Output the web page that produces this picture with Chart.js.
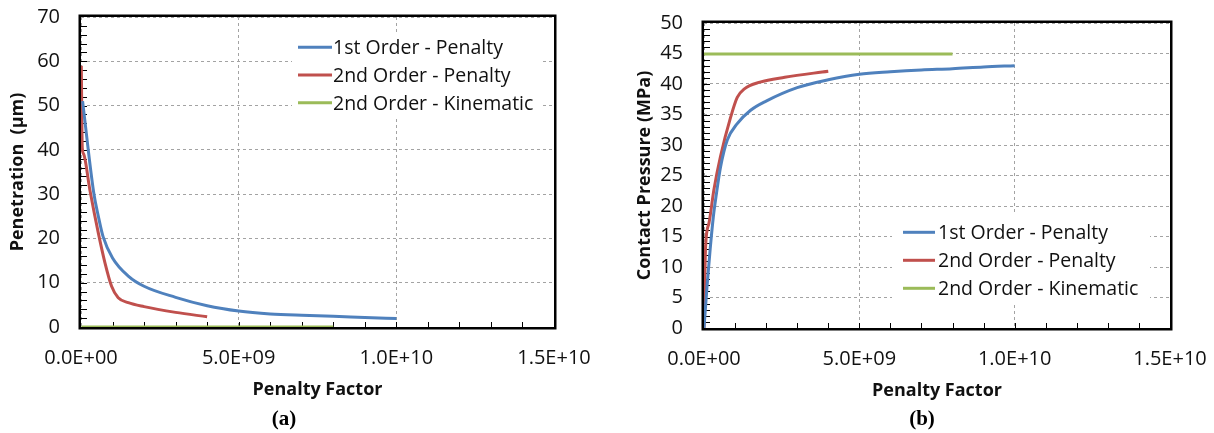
<!DOCTYPE html>
<html>
<head>
<meta charset="utf-8">
<script src="https://cdn.jsdelivr.net/npm/chart.js@4.4.1/dist/chart.umd.min.js"></script>
<style>
  html, body { margin: 0; padding: 0; background: #fff; }
  body { width: 1214px; height: 433px; position: relative; overflow: hidden; }
  canvas { position: absolute; top: 0; }
  #chartA { left: 0; }
  #chartB { left: 607px; }
  .tag {
    position: absolute;
    font-family: "Liberation Serif", "Times New Roman", serif;
    font-weight: bold;
    font-size: 21px;
    color: #000;
    transform: translate(-50%, -50%);
    white-space: nowrap;
  }
</style>
</head>
<body>
<canvas id="chartA" width="600" height="433"></canvas>
<canvas id="chartB" width="607" height="433"></canvas>
<div class="tag" style="left:284px; top:418px;">(a)</div>
<div class="tag" style="left:922px; top:418px;">(b)</div>

<script>
// ---- series names and shared tick labels ----
const seriesNames = ['1st Order - Penalty', '2nd Order - Penalty', '2nd Order - Kinematic'];
const seriesColors = ['#4F81BD', '#C0504D', '#9BBB59'];
const xTickLabels = ['0.0E+00', '5.0E+09', '1.0E+10', '1.5E+10'];
const xAxisTitle = 'Penalty Factor';

// ---- (a) penetration vs penalty factor ----
const penFirstX  = [0.05e9, 0.4e9, 0.55e9, 0.7e9, 1.0e9, 1.5e9, 2.0e9, 3.0e9, 4.0e9, 5.0e9, 6.0e9, 7.0e9, 8.0e9, 9.0e9, 1.0e10];
const penFirstY  = [51, 30.5, 25, 20.4, 15.6, 11.5, 9.2, 6.7, 4.8, 3.6, 2.95, 2.65, 2.45, 2.15, 1.9];
const penSecondX = [0.01e9, 0.04e9, 0.08e9, 0.28e9, 0.55e9, 0.76e9, 0.97e9, 1.18e9, 1.5e9, 2.0e9, 3.0e9, 4.0e9];
const penSecondY = [59, 40.5, 39.1, 31, 21.2, 14.5, 9.2, 6.6, 5.5, 4.6, 3.3, 2.3];
const penKinX    = [0.01e9, 1e9, 2e9, 4e9, 6e9, 8e9];
const penKinY    = [0, 0, 0, 0, 0, 0];
const penTitle   = 'Penetration  (\u00b5m)';

// ---- (b) contact pressure vs penalty factor ----
const presFirstX  = [0, 0.1e9, 0.2e9, 0.3e9, 0.4e9, 0.53e9, 0.75e9, 1.07e9, 1.5e9, 2.0e9, 3.0e9, 4.0e9, 5.0e9, 6.0e9, 7.0e9, 8.0e9, 9.0e9, 1.0e10];
const presFirstY  = [0, 7, 13, 18.2, 22, 26.3, 30.8, 33.5, 35.7, 37.2, 39.4, 40.7, 41.6, 42.0, 42.3, 42.5, 42.8, 43.0];
const presSecondX = [0, 0.05e9, 0.16e9, 0.32e9, 0.53e9, 0.86e9, 1.07e9, 1.3e9, 1.8e9, 2.6e9, 4.0e9];
const presSecondY = [0, 13.2, 17.2, 22.7, 28.1, 34.6, 37.8, 39.2, 40.3, 41.1, 42.1];
const presKinX    = [0, 1e9, 2e9, 4e9, 6e9, 8e9];
const presKinY    = [44.9, 44.9, 44.9, 44.9, 44.9, 44.9];
const presTitle   = 'Contact Pressure (MPa)';

const FONT = '"Open Sans", "Noto Sans", "DejaVu Sans", sans-serif';
const TEXT = '#111';

function points(xs, ys) {
  return xs.map((x, i) => ({ x: x, y: ys[i] }));
}

function buildDatasets(groups) {
  return groups.map((g, i) => ({
    label: seriesNames[i],
    data: points(g[0], g[1]),
    borderColor: seriesColors[i],
    backgroundColor: seriesColors[i],
    borderWidth: 3,
    pointRadius: 0,
    cubicInterpolationMode: 'monotone',
    fill: false
  }));
}

// frame around the plot area plus small inward minor ticks on the x and y axes
const frameAndTicks = {
  id: 'frameAndTicks',
  beforeDatasetsDraw(chart, args, opts) {
    const { ctx, chartArea: a, scales: { x, y } } = chart;
    ctx.save();
    ctx.strokeStyle = '#000';
    ctx.lineWidth = 1;
    ctx.beginPath();
    const ny = Math.round((y.max - y.min) / opts.yMinor);
    for (let i = 1; i < ny; i++) {
      const py = Math.round(y.getPixelForValue(y.min + i * opts.yMinor)) + 0.5;
      ctx.moveTo(a.left, py);
      ctx.lineTo(a.left + 6, py);
    }
    const nx = Math.round((x.max - x.min) / opts.xMinor);
    for (let i = 1; i < nx; i++) {
      const px = Math.round(x.getPixelForValue(x.min + i * opts.xMinor)) + 0.5;
      ctx.moveTo(px, a.bottom);
      ctx.lineTo(px, a.bottom - 5);
    }
    ctx.stroke();
    ctx.lineWidth = 2.5;
    ctx.strokeRect(a.left - 1.25, a.top - 1.25, a.right - a.left + 2.5, a.bottom - a.top + 2.5);
    ctx.restore();
  }
};

// legend drawn inside the plot area on a white panel
const insideLegend = {
  id: 'insideLegend',
  afterDatasetsDraw(chart, args, opts) {
    const ctx = chart.ctx;
    ctx.save();
    ctx.fillStyle = '#fff';
    ctx.fillRect(opts.box[0], opts.box[1], opts.box[2], opts.box[3]);
    ctx.font = opts.fontSize + 'px ' + FONT;
    ctx.textAlign = 'left';
    ctx.textBaseline = 'alphabetic';
    chart.data.datasets.forEach((ds, i) => {
      const ry = opts.rowY + i * opts.rowGap;
      ctx.strokeStyle = ds.borderColor;
      ctx.lineWidth = 3;
      ctx.beginPath();
      ctx.moveTo(opts.lineX0, ry);
      ctx.lineTo(opts.lineX1, ry);
      ctx.stroke();
      ctx.fillStyle = TEXT;
      ctx.fillText(ds.label, opts.textX, ry + opts.fontSize * 0.357);
    });
    ctx.restore();
  }
};

function makeChart(canvasId, cfg) {
  return new Chart(document.getElementById(canvasId), {
    type: 'line',
    data: { datasets: buildDatasets(cfg.groups) },
    plugins: [frameAndTicks, insideLegend],
    options: {
      responsive: false,
      animation: false,
      devicePixelRatio: 1,
      layout: { padding: { top: cfg.top, right: cfg.right, bottom: 0, left: 0 } },
      plugins: {
        legend: { display: false },
        tooltip: { enabled: false },
        frameAndTicks: { yMinor: cfg.yMinor, xMinor: 1e9 },
        insideLegend: cfg.legend
      },
      scales: {
        x: {
          type: 'linear',
          min: 0,
          max: 1.5e10,
          afterFit: (s) => { s.height = cfg.xHeight; },
          afterBuildTicks: (s) => { s.ticks = xTickLabels.map((_, i) => ({ value: i * 5e9 })); },
          ticks: {
            autoSkip: false,
            maxRotation: 0,
            padding: 0,
            color: TEXT,
            font: { family: FONT, size: 20 },
            callback: (v, i) => xTickLabels[i]
          },
          grid: { color: '#a3a3a3', lineWidth: 1, drawTicks: true, tickLength: 19, tickColor: 'rgba(0,0,0,0)' },
          border: { display: false, dash: [3, 3] },
          title: {
            display: true,
            text: xAxisTitle,
            color: TEXT,
            font: { family: FONT, size: 18, weight: 'bold' },
            padding: { top: 0, bottom: cfg.xTitlePad }
          }
        },
        y: {
          type: 'linear',
          min: 0,
          max: cfg.yMax,
          afterFit: (s) => { s.width = cfg.yWidth; },
          ticks: {
            stepSize: cfg.yStep,
            padding: 0,
            color: TEXT,
            font: { family: FONT, size: 20 }
          },
          grid: { color: '#a3a3a3', lineWidth: 1, drawTicks: true, tickLength: 21, tickColor: 'rgba(0,0,0,0)' },
          border: { display: false, dash: [3, 3] },
          title: {
            display: true,
            text: cfg.yTitle,
            color: TEXT,
            font: { family: FONT, size: 18, weight: 'bold' },
            padding: { top: cfg.yTitlePad, bottom: 0 }
          }
        }
      }
    }
  });
}

makeChart('chartA', {
  groups: [[penFirstX, penFirstY], [penSecondX, penSecondY], [penKinX, penKinY]],
  yMax: 70, yStep: 10, yMinor: 2,
  yTitle: penTitle,
  top: 17, right: 46, xHeight: 106, yWidth: 81,
  xTitlePad: 32, yTitlePad: 7,
  legend: { box: [292, 32, 251, 86], lineX0: 298, lineX1: 332, textX: 333, rowY: 47.3, rowGap: 27.7, fontSize: 19.5 }
});

makeChart('chartB', {
  groups: [[presFirstX, presFirstY], [presSecondX, presSecondY], [presKinX, presKinY]],
  yMax: 50, yStep: 5, yMinor: 1,
  yTitle: presTitle,
  top: 23, right: 44, xHeight: 105, yWidth: 97,
  xTitlePad: 31, yTitlePad: 27,
  legend: { box: [285, 215, 258, 90], lineX0: 296, lineX1: 328, textX: 331, rowY: 232.3, rowGap: 28, fontSize: 19.5 }
});
</script>
</body>
</html>
